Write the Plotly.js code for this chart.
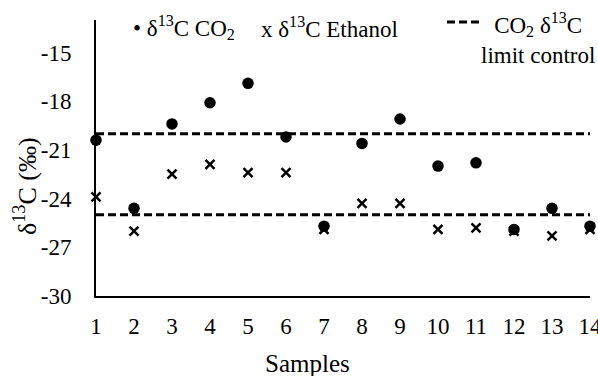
<!DOCTYPE html>
<html>
<head>
<meta charset="utf-8">
<script src="https://cdn.plot.ly/plotly-3.0.1.min.js"></script>
<style>html,body{margin:0;padding:0;background:#fff;}#chart{width:598px;height:376px;}</style>
</head>
<body>
<div id="chart"></div>
<script>
// Data
const samples = [1,2,3,4,5,6,7,8,9,10,11,12,13,14];
const co2 = [-20.4,-24.6,-19.4,-18.1,-16.9,-20.2,-25.7,-20.6,-19.1,-22.0,-21.8,-25.9,-24.6,-25.7];
const ethanol = [-23.9,-26.0,-22.5,-21.9,-22.4,-22.4,-25.9,-24.3,-24.3,-25.9,-25.8,-26.0,-26.3,-25.9];
const limitUpper = -20;
const limitLower = -25;
const yTicks = [-30,-27,-24,-21,-18,-15];

const W = 598, H = 376;
const M = {l: 96, r: 8, t: 20, b: 80};
const pw = W - M.l - M.r, ph = H - M.t - M.b;
const PX = px => (px - M.l) / pw;
const PY = py => (H - M.b - py) / ph;
const FONT = '"Liberation Serif", "Times New Roman", Times, serif';
const DASH = '8px,4px';

const traces = [
  {x: [samples[0], samples[samples.length-1]], y: [limitUpper, limitUpper], mode: 'lines',
   line: {color: '#000', width: 3, dash: DASH}, showlegend: false, hoverinfo: 'skip'},
  {x: [samples[0], samples[samples.length-1]], y: [limitLower, limitLower], mode: 'lines',
   line: {color: '#000', width: 3, dash: DASH}, showlegend: false, hoverinfo: 'skip'},
  {x: samples, y: ethanol, mode: 'markers', name: 'δ13C Ethanol', cliponaxis: false,
   marker: {symbol: 'x-thin', size: 9, color: '#000', line: {color: '#000', width: 2.5}}},
  {x: samples, y: co2, mode: 'markers', name: 'δ13C CO2', cliponaxis: false,
   marker: {symbol: 'circle', size: 11.5, color: '#000'}}
];

const layout = {
  width: W, height: H,
  margin: M,
  paper_bgcolor: '#fff', plot_bgcolor: '#fff',
  showlegend: false,
  font: {family: FONT, size: 22, color: '#000'},
  xaxis: {
    range: [1, 14], tickvals: samples, ticktext: samples.map(String),
    showgrid: false, zeroline: false, showline: true, linecolor: '#000', linewidth: 2,
    ticks: '', ticklabelstandoff: 8, ticklabeloverflow: 'allow',
    tickfont: {family: FONT, size: 23, color: '#000'}
  },
  yaxis: {
    range: [-30, -13], tickvals: yTicks, ticktext: yTicks.map(String),
    showgrid: false, zeroline: false, showline: true, linecolor: '#000', linewidth: 2,
    ticks: '', ticklabelstandoff: 18, tickfont: {family: FONT, size: 23, color: '#000'}
  },
  annotations: [
    {xref: 'paper', yref: 'paper', x: PX(307), y: PY(363), xanchor: 'center', yanchor: 'middle',
     text: 'Samples', showarrow: false, font: {family: FONT, size: 25, color: '#000'}},
    {xref: 'paper', yref: 'paper', x: PX(25), y: PY(186), xanchor: 'center', yanchor: 'middle',
     text: 'δ<sup>13</sup>C (‰)', textangle: -90, showarrow: false, font: {family: FONT, size: 26, color: '#000'}},
    {xref: 'paper', yref: 'paper', x: PX(131), y: PY(27), xanchor: 'left', yanchor: 'middle',
     text: '• δ<sup>13</sup>C CO<sub>2</sub>', showarrow: false, font: {family: FONT, size: 23, color: '#000'}},
    {xref: 'paper', yref: 'paper', x: PX(259), y: PY(27), xanchor: 'left', yanchor: 'middle',
     text: 'x δ<sup>13</sup>C Ethanol', showarrow: false, font: {family: FONT, size: 23, color: '#000'}},
    {xref: 'paper', yref: 'paper', x: PX(538), y: PY(39), xanchor: 'center', yanchor: 'middle', align: 'center',
     text: 'CO<sub>2</sub> δ<sup>13</sup>C<br>limit control', showarrow: false, font: {family: FONT, size: 23, color: '#000'}}
  ],
  shapes: [
    {type: 'line', xref: 'paper', yref: 'paper', x0: PX(447), x1: PX(482), y0: PY(22), y1: PY(22),
     line: {color: '#000', width: 3, dash: DASH}}
  ]
};

Plotly.newPlot('chart', traces, layout, {displayModeBar: false, staticPlot: true});
</script>
</body>
</html>
